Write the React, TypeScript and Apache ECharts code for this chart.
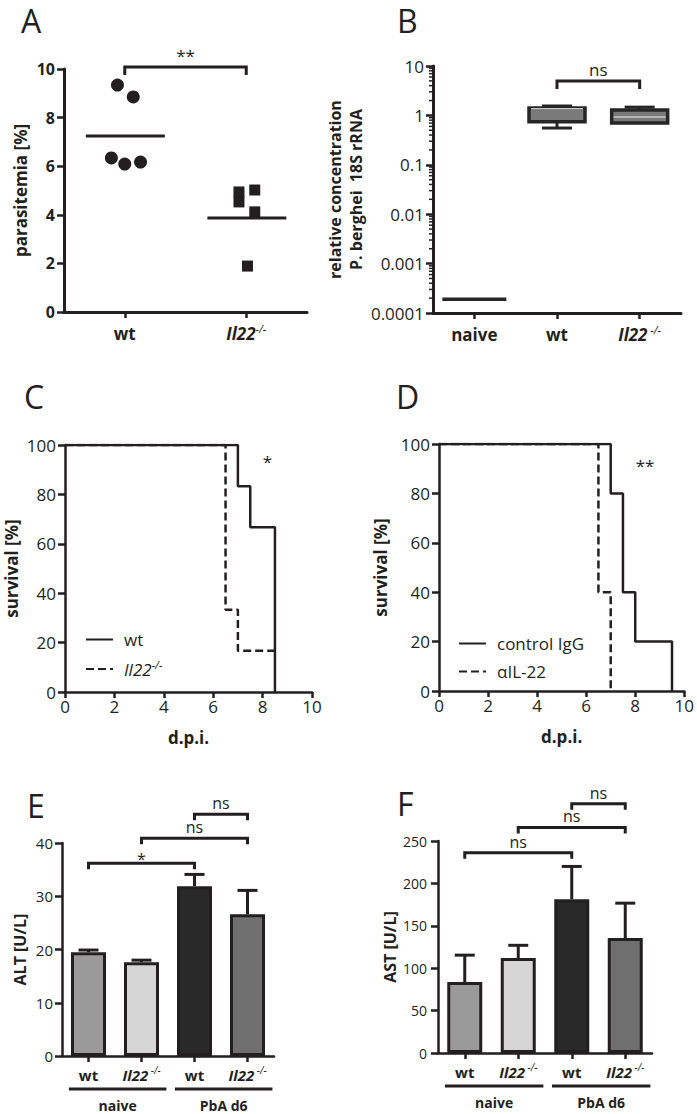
import React, { useEffect, useRef } from 'react';
import * as echarts from 'echarts';

const FONT = "'Open Sans', 'DejaVu Sans', sans-serif";
const INK = '#231f20';

// ---------- Panel A: parasitemia ----------
const catsA = ['wt', 'Il22-/-'];
const parasitemiaWt = [9.34, 8.85, 6.34, 6.09, 6.17];
const jitterWt = [-0.06, 0.07, -0.11, 0.0, 0.13];
const parasitemiaIl22 = [4.94, 5.02, 4.53, 4.12, 1.89];
const jitterIl22 = [-0.06, 0.07, -0.06, 0.07, 0.01];
const meanA = [7.24, 3.87];
const bracketsA = [{ from: 0, to: 1, y: 10.08, label: '**' }];

// ---------- Panel B: P. berghei 18S rRNA ----------
const catsB = ['naive', 'wt', 'Il22 -/-'];
const boxMin = [0.00019, 0.555, 0.7];
const boxQ1 = [0.00019, 0.74, 0.7];
const boxMedian = [0.00019, 1.36, 0.93];
const boxQ3 = [0.00019, 1.41, 1.28];
const boxMax = [0.00019, 1.55, 1.47];
const logTickLabelsB = ['0.0001', '0.001', '0.01', '0.1', '1', '10'];
const bracketsB = [{ from: 1, to: 2, y: 4.97, label: 'ns' }];

// ---------- Panel C: survival wt vs Il22-/- ----------
const dayCwt = [0, 7, 7.5, 8.5];
const survCwt = [100, 83.33, 66.67, 0];
const dayCko = [0, 6.5, 7, 8.5];
const survCko = [100, 33.33, 16.67, 16.67];
const starC = [{ x: 8.2, y: 93.5, label: '*' }];

// ---------- Panel D: survival control IgG vs anti-IL-22 ----------
const dayDctrl = [0, 7, 7.5, 8, 9.5];
const survDctrl = [100, 80, 40, 20, 0];
const dayDanti = [0, 6.5, 7];
const survDanti = [100, 40, 0];
const starD = [{ x: 8.4, y: 91.2, label: '**' }];

// ---------- Panels E / F: ALT, AST ----------
const catsEF = ['wt', 'Il22 -/-', 'wt', 'Il22 -/-'];
const altMean = [19.5, 17.6, 31.9, 26.6];
const altSem = [0.4, 0.4, 2.2, 4.5];
const astMean = [83.6, 112, 181.4, 135.5];
const astSem = [31.8, 15, 38.6, 41.2];
const barColors = ['#9a9a9a', '#d5d5d5', '#292929', '#6f6f6f'];
const groupsEF = [
  { label: 'naive', from: 0, to: 1 },
  { label: 'PbA d6', from: 2, to: 3 },
];
const bracketsE = [
  { from: 0, to: 2, y: 36.2, label: '*' },
  { from: 1, to: 3, y: 40.9, label: 'ns' },
  { from: 2, to: 3, y: 45.4, label: 'ns' },
];
const bracketsF = [
  { from: 0, to: 2, y: 236, label: 'ns' },
  { from: 1, to: 3, y: 266, label: 'ns' },
  { from: 2, to: 3, y: 294, label: 'ns' },
];

// ---------- helpers ----------
const catRich = (size: number) => ({
  b: { fontFamily: FONT, fontSize: size, fontWeight: 'bold', color: INK, lineHeight: size + 4 },
  i: { fontFamily: FONT, fontSize: size, fontWeight: 'bold', fontStyle: 'italic', color: INK, lineHeight: size + 4 },
  s: { fontFamily: FONT, fontSize: Math.round(size * 0.65), fontStyle: 'italic', color: INK, verticalAlign: 'top', lineHeight: 12 },
});
const catLabel = (v: string) => (v.startsWith('Il22') ? `{i|Il22}{s|${v.slice(4)}}` : `{b|${v}}`);

function catAxis(grid: number, data: string[], size: number, margin: number, lw: number) {
  return {
    type: 'category',
    gridIndex: grid,
    data,
    boundaryGap: true,
    axisLine: { show: true, onZero: false, lineStyle: { color: INK, width: lw } },
    axisTick: { show: true, alignWithLabel: true, length: 6, lineStyle: { color: INK, width: 2.5 } },
    axisLabel: { formatter: catLabel, rich: catRich(size), margin, interval: 0 },
    splitLine: { show: false },
  };
}

function valAxisY(grid: number, min: number, max: number, interval: number, name: string, nameGap: number, labelSize: number, labelWeight: any, nameSize: number, lw: number, margin: number) {
  return {
    type: 'value',
    gridIndex: grid,
    min,
    max,
    interval,
    name,
    nameLocation: 'middle',
    nameGap,
    nameRotate: 90,
    nameTextStyle: { fontFamily: FONT, fontSize: nameSize, fontWeight: 'bold', color: INK },
    axisLine: { show: true, onZero: false, lineStyle: { color: INK, width: lw } },
    axisTick: { show: true, length: 7, lineStyle: { color: INK, width: 2.5 } },
    axisLabel: { fontFamily: FONT, fontSize: labelSize, fontWeight: labelWeight, color: INK, margin },
    splitLine: { show: false },
  };
}

function bracketSeries(xi: number, yi: number, items: any[], tick: number, fontSize: number, starDy: number) {
  return {
    type: 'custom',
    xAxisIndex: xi,
    yAxisIndex: yi,
    clip: false,
    silent: true,
    z: 10,
    encode: { x: [0, 1], y: 2 },
    data: items.map((b) => [b.from, b.to, b.y]),
    renderItem: (params: any, api: any) => {
      const b = items[params.dataIndex];
      const p1 = api.coord([api.value(0), api.value(2)]);
      const p2 = api.coord([api.value(1), api.value(2)]);
      const isStar = b.label.indexOf('*') >= 0;
      return {
        type: 'group',
        children: [
          {
            type: 'polyline',
            shape: { points: [[p1[0], p1[1] + tick], [p1[0], p1[1]], [p2[0], p2[1]], [p2[0], p2[1] + tick]] },
            style: { stroke: INK, lineWidth: 3, fill: null },
          },
          {
            type: 'text',
            x: (p1[0] + p2[0]) / 2,
            y: p1[1] - 3 + (isStar ? starDy : 0),
            style: { text: b.label, fill: INK, fontFamily: FONT, fontSize, align: 'center', verticalAlign: 'bottom' },
          },
        ],
      };
    },
  };
}

function starSeries(xi: number, yi: number, items: any[]) {
  return {
    type: 'custom',
    xAxisIndex: xi,
    yAxisIndex: yi,
    clip: false,
    silent: true,
    encode: { x: 0, y: 1 },
    data: items.map((s) => [s.x, s.y]),
    renderItem: (params: any, api: any) => {
      const p = api.coord([api.value(0), api.value(1)]);
      return {
        type: 'text',
        x: p[0],
        y: p[1],
        style: { text: items[params.dataIndex].label, fill: INK, fontFamily: FONT, fontSize: 17, align: 'center', verticalAlign: 'middle' },
      };
    },
  };
}

function errSeries(xi: number, yi: number, mean: number[], sem: number[]) {
  return {
    type: 'custom',
    xAxisIndex: xi,
    yAxisIndex: yi,
    silent: true,
    z: 1,
    encode: { x: 0, y: [1, 2] },
    data: mean.map((m, i) => [i, m, m + sem[i]]),
    renderItem: (params: any, api: any) => {
      const lo = api.coord([api.value(0), api.value(1)]);
      const hi = api.coord([api.value(0), api.value(2)]);
      const cap = 10;
      return {
        type: 'group',
        children: [
          { type: 'line', shape: { x1: lo[0], y1: lo[1], x2: hi[0], y2: hi[1] }, style: { stroke: INK, lineWidth: 3 } },
          { type: 'line', shape: { x1: hi[0] - cap, y1: hi[1], x2: hi[0] + cap, y2: hi[1] }, style: { stroke: INK, lineWidth: 3 } },
        ],
      };
    },
  };
}

function groupSeries(xi: number, yi: number) {
  return {
    type: 'custom',
    xAxisIndex: xi,
    yAxisIndex: yi,
    clip: false,
    silent: true,
    encode: { x: [0, 1], y: 2 },
    data: groupsEF.map((g) => [g.from, g.to, 0]),
    renderItem: (params: any, api: any) => {
      const a = api.coord([api.value(0), 0]);
      const b = api.coord([api.value(1), 0]);
      const unit = api.size([1, 0])[0];
      const x1 = a[0] - 0.37 * unit;
      const x2 = b[0] + 0.47 * unit;
      return {
        type: 'group',
        children: [
          { type: 'line', shape: { x1, y1: a[1] + 33, x2, y2: a[1] + 33 }, style: { stroke: INK, lineWidth: 3 } },
          {
            type: 'text',
            x: (x1 + x2) / 2,
            y: a[1] + 49,
            style: { text: groupsEF[params.dataIndex].label, fill: INK, fontFamily: FONT, fontSize: 14, fontWeight: 'bold', align: 'center', verticalAlign: 'middle' },
          },
        ],
      };
    },
  };
}

function buildOption() {
  const minorTicks: number[] = [];
  for (let e = -4; e < 1; e++) for (let k = 2; k <= 9; k++) minorTicks.push(k * Math.pow(10, e));

  const titleStyle = { fontFamily: FONT, fontSize: 32, fontWeight: 'normal', color: INK };
  const letters = [
    { text: 'A', left: 21, top: 4 },
    { text: 'B', left: 397, top: 4 },
    { text: 'C', left: 24, top: 380 },
    { text: 'D', left: 396, top: 380 },
    { text: 'E', left: 27, top: 789 },
    { text: 'F', left: 397, top: 787 },
  ];

  const lineS = (name: string, xi: number, yi: number, days: number[], surv: number[], dashed: boolean) => ({
    type: 'line',
    name,
    xAxisIndex: xi,
    yAxisIndex: yi,
    step: 'end',
    symbol: 'none',
    showSymbol: false,
    data: days.map((d, i) => [d, surv[i]]),
    lineStyle: { color: INK, width: 2.5, type: dashed ? [8, 4] : 'solid' },
    itemStyle: { color: INK },
    z: dashed ? 2 : 3,
  });

  const legendBase = {
    orient: 'vertical',
    selectedMode: false,
    itemWidth: 27,
    itemHeight: 16,
    itemGap: 11,
    itemStyle: { opacity: 0 },
    textStyle: {
      fontFamily: FONT,
      fontSize: 17,
      color: INK,
      padding: [0, 0, 0, 6],
      rich: {
        i: { fontFamily: FONT, fontSize: 17, fontStyle: 'italic', color: INK, lineHeight: 20 },
        s: { fontFamily: FONT, fontSize: 11, fontStyle: 'italic', color: INK, verticalAlign: 'top', lineHeight: 12 },
      },
    },
    formatter: (n: string) => (n.startsWith('Il22') ? `{i|Il22}{s|${n.slice(4)}}` : n),
  };

  const dpiAxis = (grid: number) => ({
    type: 'value', gridIndex: grid, min: 0, max: 10, interval: 2, name: 'd.p.i.', nameLocation: 'middle', nameGap: 37,
    nameTextStyle: { fontFamily: FONT, fontSize: 17, fontWeight: 'bold', color: INK },
    axisLine: { show: true, onZero: false, lineStyle: { color: INK, width: 2.5 } },
    axisTick: { show: true, length: 6, lineStyle: { color: INK, width: 2.5 } },
    axisLabel: { fontFamily: FONT, fontSize: 17, color: INK, margin: 6 },
    splitLine: { show: false },
  });

  return {
    animation: false,
    backgroundColor: '#ffffff',
    textStyle: { fontFamily: FONT, color: INK },
    title: letters.map((l) => ({ text: l.text, left: l.left, top: l.top, padding: 0, textStyle: titleStyle })),
    legend: [
      { ...legendBase, left: 80, top: 626, data: ['wt', 'Il22-/-'] },
      { ...legendBase, left: 453, top: 630, data: ['control IgG', 'αIL-22'] },
    ],
    grid: [
      { left: 64, top: 69, width: 243, height: 243 },
      { left: 433, top: 66, width: 248, height: 247 },
      { left: 65, top: 445, width: 247, height: 247 },
      { left: 439, top: 444, width: 247, height: 247 },
      { left: 62, top: 843, width: 212, height: 213 },
      { left: 438, top: 841, width: 214, height: 212 },
    ],
    xAxis: [
      catAxis(0, catsA, 17, 11, 3),
      { type: 'value', gridIndex: 0, min: -0.5, max: 1.5, show: false, axisLine: { onZero: false } },
      catAxis(1, catsB, 17, 11, 3),
      dpiAxis(2),
      dpiAxis(3),
      catAxis(4, catsEF, 15, 9, 2.5),
      catAxis(5, catsEF, 15, 9, 2.5),
    ],
    yAxis: [
      valAxisY(0, 0, 10, 2, 'parasitemia [%]', 35, 16, 'bold', 17, 3, 9),
      {
        type: 'log', gridIndex: 1, logBase: 10, min: 0.0001, max: 10,
        name: 'relative concentration\nP. berghei  18S rRNA', nameLocation: 'middle', nameGap: 67, nameRotate: 90,
        nameTextStyle: { fontFamily: FONT, fontSize: 16, fontWeight: 'bold', color: INK, lineHeight: 21 },
        axisLine: { show: true, onZero: false, lineStyle: { color: INK, width: 3 } },
        axisTick: { show: true, length: 7, lineStyle: { color: INK, width: 2.5 } },
        axisLabel: {
          fontFamily: FONT, fontSize: 17, color: INK, margin: 9,
          formatter: (v: number) => logTickLabelsB[Math.round(Math.log10(v)) + 4] ?? '',
        },
        splitLine: { show: false },
      },
      valAxisY(2, 0, 100, 20, 'survival [%]', 45, 17, 'normal', 17, 2.5, 9),
      valAxisY(3, 0, 100, 20, 'survival [%]', 50, 17, 'normal', 17, 2.5, 9),
      valAxisY(4, 0, 40, 10, 'ALT [U/L]', 34, 15, 'normal', 16, 2.5, 9),
      valAxisY(5, 0, 250, 50, 'AST [U/L]', 40, 14, 'normal', 16, 2.5, 11),
    ],
    series: [
      // ----- A -----
      {
        type: 'scatter', xAxisIndex: 1, yAxisIndex: 0, symbol: 'circle', symbolSize: 13,
        itemStyle: { color: INK, opacity: 1 }, data: parasitemiaWt.map((v, i) => [0 + jitterWt[i], v]),
      },
      {
        type: 'scatter', xAxisIndex: 1, yAxisIndex: 0, symbol: 'rect', symbolSize: 11,
        itemStyle: { color: INK, opacity: 1 }, data: parasitemiaIl22.map((v, i) => [1 + jitterIl22[i], v]),
      },
      {
        type: 'custom', xAxisIndex: 1, yAxisIndex: 0, silent: true, encode: { x: 0, y: 1 },
        data: meanA.map((m, i) => [i, m]),
        renderItem: (params: any, api: any) => {
          const a = api.coord([api.value(0) - 0.32, api.value(1)]);
          const b = api.coord([api.value(0) + 0.33, api.value(1)]);
          return { type: 'line', shape: { x1: a[0], y1: a[1], x2: b[0], y2: b[1] }, style: { stroke: INK, lineWidth: 3 } };
        },
      },
      bracketSeries(0, 0, bracketsA, 8, 17, 0),
      // ----- B -----
      {
        type: 'custom', xAxisIndex: 2, yAxisIndex: 1, clip: false, silent: true, encode: { x: 0, y: 1 },
        data: minorTicks.map((v) => [0, v]),
        renderItem: (params: any, api: any) => {
          const p = api.coord([0, api.value(1)]);
          const x = params.coordSys.x;
          return { type: 'line', shape: { x1: x - 4, y1: p[1], x2: x, y2: p[1] }, style: { stroke: INK, lineWidth: 1.5 } };
        },
      },
      {
        type: 'custom', xAxisIndex: 2, yAxisIndex: 1, silent: true, z: 5,
        encode: { x: 0, y: [1, 2, 3, 4, 5] },
        data: catsB.map((_, i) => [i, boxMin[i], boxQ1[i], boxMedian[i], boxQ3[i], boxMax[i]]),
        renderItem: (params: any, api: any) => {
          const i = api.value(0);
          const y = (d: number) => api.coord([i, api.value(d)])[1];
          const cx = api.coord([i, api.value(3)])[0];
          const hw = params.dataIndex === 0 ? 32 : 28;
          const capHw = 15;
          const yMin = y(1), yQ1 = y(2), yMed = y(3), yQ3 = y(4), yMax = y(5);
          const st = { stroke: '#262626', lineWidth: 3 };
          const ch: any[] = [];
          if (yMax < yQ3 - 0.5) {
            ch.push({ type: 'line', shape: { x1: cx, y1: yQ3, x2: cx, y2: yMax }, style: st });
            ch.push({ type: 'line', shape: { x1: cx - capHw, y1: yMax, x2: cx + capHw, y2: yMax }, style: st });
          }
          if (yMin > yQ1 + 0.5) {
            ch.push({ type: 'line', shape: { x1: cx, y1: yQ1, x2: cx, y2: yMin }, style: st });
            ch.push({ type: 'line', shape: { x1: cx - capHw, y1: yMin, x2: cx + capHw, y2: yMin }, style: st });
          }
          ch.push({ type: 'rect', shape: { x: cx - hw, y: yQ3, width: 2 * hw, height: yQ1 - yQ3 }, style: { fill: '#7a7a7a', stroke: '#262626', lineWidth: 3.5 } });
          if (yQ1 - yQ3 > 4) {
            ch.push({ type: 'line', shape: { x1: cx - hw + 2, y1: yMed, x2: cx + hw - 2, y2: yMed }, style: { stroke: '#c8c8c8', lineWidth: 1.5 } });
          }
          return { type: 'group', children: ch };
        },
      },
      bracketSeries(2, 1, bracketsB, 8, 17, 0),
      // ----- C -----
      lineS('Il22-/-', 3, 2, dayCko, survCko, true),
      lineS('wt', 3, 2, dayCwt, survCwt, false),
      starSeries(3, 2, starC),
      // ----- D -----
      lineS('αIL-22', 4, 3, dayDanti, survDanti, true),
      lineS('control IgG', 4, 3, dayDctrl, survDctrl, false),
      starSeries(4, 3, starD),
      // ----- E -----
      errSeries(5, 4, altMean, altSem),
      {
        type: 'bar', xAxisIndex: 5, yAxisIndex: 4, barWidth: 35, z: 3,
        data: altMean.map((v, i) => ({ value: v, itemStyle: { color: barColors[i], borderColor: INK, borderWidth: 3 } })),
      },
      bracketSeries(5, 4, bracketsE, 6, 16, 7),
      groupSeries(5, 4),
      // ----- F -----
      errSeries(6, 5, astMean, astSem),
      {
        type: 'bar', xAxisIndex: 6, yAxisIndex: 5, barWidth: 35, z: 3,
        data: astMean.map((v, i) => ({ value: v, itemStyle: { color: barColors[i], borderColor: INK, borderWidth: 3 } })),
      },
      bracketSeries(6, 5, bracketsF, 6, 16, 7),
      groupSeries(6, 5),
    ],
  };
}

export default function App() {
  const ref = useRef<HTMLDivElement>(null);
  useEffect(() => {
    if (!ref.current) return;
    const chart = echarts.init(ref.current, undefined, { renderer: 'svg' });
    chart.setOption(buildOption() as any);
    return () => chart.dispose();
  }, []);
  return (
    <div
      ref={ref}
      style={{ position: 'absolute', left: 0, top: 0, width: 697, height: 1114, background: '#fff' }}
    />
  );
}
